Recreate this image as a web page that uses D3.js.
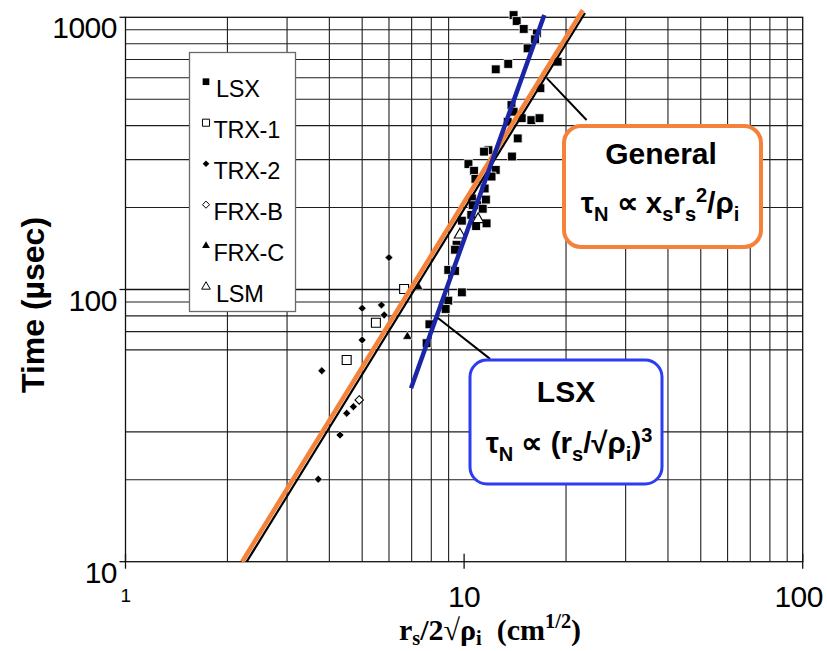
<!DOCTYPE html>
<html><head><meta charset="utf-8">
<script src="https://cdn.jsdelivr.net/npm/d3@7/dist/d3.min.js"></script>
<style>
html,body{margin:0;padding:0;background:#fff;}
svg{display:block;}
</style></head>
<body>
<svg id="chart" width="827" height="651"></svg>
<script>
// ---------- data ----------
const xTickValues = [1, 10, 100];
const xTickLabels = ["1", "10", "100"];
const yTickValues = [10, 100, 1000];
const yTickLabels = ["10", "100", "1000"];
const xGridValues = [2,3,4,5,6,7,8,9,20,30,40,50,60,70,80,90];
const yGridValues = [20,30,60,70,80,90,200,300,400,500,600,700,800,900];

const lsxPoints = [[14.0,1019],[14.3,969],[15.0,906],[16.4,873],[16.2,830],[15.4,769],[12.4,644],[13.5,674],[18.9,687],[16.8,549],[13.8,476],[14.0,450],[14.8,426],[15.8,419],[16.7,426],[13.45,413],[14.4,359],[11.8,325],[11.45,321],[13.85,308],[10.3,289],[10.7,273],[12.4,275],[12.05,260],[10.8,255],[11.5,235],[10.55,216],[10.6,204],[11.2,204],[11.6,214],[11.35,198],[10.5,188],[11.65,175],[10.85,171],[9.85,179],[9.5,146],[9.4,140],[8.98,118],[9.4,117],[9.85,97.6],[8.98,91.0],[8.82,84.8],[7.9,74.5],[7.75,63.5]];
const trx1Points = [[6.65,100.4],[5.49,75.5],[4.50,55.1]];
const trx2Points = [[5.0,85.3],[5.7,87.7],[5.81,80.6],[5.0,65.2],[3.8,50.3],[4.5,35.1],[4.71,37.1],[4.3,29.2],[3.71,20.1],[6.0,131]];
const frxBPoints = [[4.9,39.3]];
const frxCPoints = [[6.8,67.1],[7.32,102.4]];
const lsmPoints = [[11.0,181],[9.72,159]];

const generalFitOrange = [[2.21,10],[22.4,1063]];
const generalFitBlack = [[2.28,10],[22.75,1037]];
const lsxFit = [[6.97,43.4],[17.25,1020]];
const generalLeader = [[17.54,598],[23.0,419.5]];
const lsxLeader = [[8.37,78.6],[11.93,55.6]];

const legendNames = ["LSX","TRX-1","TRX-2","FRX-B","FRX-C","LSM"];

// ---------- setup ----------
const svg = d3.select("#chart");
const x = d3.scaleLog().domain([1,100]).range([125.5, 802.7]);
const y = d3.scaleLog().domain([10,1000]).range([561.7, 17.3]);
const sans = "'Liberation Sans', Arial, Helvetica, sans-serif";
const serif = "'Liberation Serif', 'Times New Roman', serif";
const gridColor = "#1e1e1e";

// grid
const g = svg.append("g");
g.selectAll("line.vg").data(xGridValues).join("line")
  .attr("x1", d=>x(d)).attr("x2", d=>x(d))
  .attr("y1", y(1000)).attr("y2", y(10))
  .attr("stroke", gridColor).attr("stroke-width", 1.1);
g.selectAll("line.hg").data(yGridValues).join("line")
  .attr("x1", x(1)).attr("x2", x(100))
  .attr("y1", d=>y(d)).attr("y2", d=>y(d))
  .attr("stroke", gridColor).attr("stroke-width", 1.1);
// frame
g.append("rect").attr("x", x(1)).attr("y", y(1000))
  .attr("width", x(100)-x(1)).attr("height", y(10)-y(1000))
  .attr("fill","none").attr("stroke","#111").attr("stroke-width",1.3);
g.append("line").attr("x1",x(1)).attr("x2",x(100)).attr("y1",y(100)).attr("y2",y(100))
  .attr("stroke","#111").attr("stroke-width",1.3);

// axes ticks
g.selectAll("line.yt").data(yTickValues).join("line")
  .attr("x1", x(1)-6).attr("x2", x(1)).attr("y1", d=>y(d)).attr("y2", d=>y(d))
  .attr("stroke","#111").attr("stroke-width",1.3);
g.selectAll("line.xt").data(xTickValues).join("line")
  .attr("x1", d=>x(d)).attr("x2", d=>x(d)).attr("y1", y(10)-8).attr("y2", y(10)+7)
  .attr("stroke","#111").attr("stroke-width",1.3);

// tick labels
svg.selectAll("text.yl").data(yTickValues).join("text")
  .attr("x", 117).attr("y", d=>y(d)+21)
  .attr("text-anchor","end").attr("font-family",sans).attr("font-size",30)
  .attr("letter-spacing",-0.5)
  .text((d,i)=>yTickLabels[i]);
svg.selectAll("text.xl").data(xTickValues).join("text")
  .attr("x", (d,i)=> x(d) + (i===2 ? -4 : 0))
  .attr("y", (d,i)=> i===0 ? 602 : 607)
  .attr("text-anchor","middle").attr("font-family",sans)
  .attr("font-size",(d,i)=> i===0 ? 19 : 30).attr("letter-spacing",-0.5)
  .text((d,i)=>xTickLabels[i]);

// axis titles
svg.append("text").attr("transform","translate(43.5,305) rotate(-90)")
  .attr("text-anchor","middle").attr("font-family",sans).attr("font-weight","bold")
  .attr("font-size",32).text("Time (µsec)");

function rich(textSel, parts, size, subK){
  let shift = 0;
  const sk = subK || 0.28;
  parts.forEach(p=>{
    const [t, kind] = p;
    let target = 0, fs = size;
    if (kind==="sub"){ target = size*sk; fs = size*0.68; }
    else if (kind==="sup"){ target = -size*0.38; fs = size*0.68; }
    textSel.append("tspan").attr("dy", target - shift).attr("font-size", fs).text(t);
    shift = target;
  });
}

const xt = svg.append("text").attr("x", 490).attr("y", 639.5)
  .attr("text-anchor","middle").attr("font-family",serif).attr("font-weight","bold")
  .attr("font-size",30);
rich(xt, [["r","n"],["s","sub"],["/2√ρ","n"],["i","sub"],["\u00a0\u00a0(cm","n"],["1/2","sup"],[")","n"]], 30, 0.18);

// ---------- points ----------
const pts = svg.append("g");
const sym = (type,size)=> d3.symbol().type(type).size(size)();
function drawPts(data, type, size, fill, stroke, sw){
  pts.selectAll(null).data(data).join("path")
    .attr("transform", d=>`translate(${x(d[0])},${y(d[1])})`)
    .attr("d", sym(type,size))
    .attr("fill", fill).attr("stroke", stroke).attr("stroke-width", sw);
}
drawPts(trx2Points, d3.symbolDiamond2, 40, "#000", "#fff", 0.6);
drawPts(trx1Points, d3.symbolSquare, 80, "#fff", "#000", 1.1);
drawPts(frxBPoints, d3.symbolDiamond2, 45, "#fff", "#000", 1.1);
drawPts(frxCPoints, d3.symbolTriangle, 38, "#000", "#fff", 0.5);
drawPts(lsxPoints, d3.symbolSquare, 78, "#000", "#fff", 0.8);
drawPts(lsmPoints, d3.symbolTriangle, 55, "#fff", "#000", 1.1);

// ---------- fit lines ----------
const line = d3.line().x(d=>x(d[0])).y(d=>y(d[1]));
svg.append("path").attr("d", line(generalFitBlack)).attr("stroke","#000").attr("stroke-width",2.2).attr("fill","none");
svg.append("path").attr("d", line(generalFitOrange)).attr("stroke","#f5823a").attr("stroke-width",4.5).attr("fill","none");
svg.append("path").attr("d", line(lsxFit)).attr("stroke","#1b26a6").attr("stroke-width",4.5).attr("fill","none");
svg.append("path").attr("d", line(generalLeader)).attr("stroke","#000").attr("stroke-width",2).attr("fill","none");
svg.append("path").attr("d", line(lsxLeader)).attr("stroke","#000").attr("stroke-width",2).attr("fill","none");

// ---------- legend ----------
const lg = svg.append("g");
lg.append("rect").attr("x",189.5).attr("y",52.5).attr("width",106).attr("height",259)
  .attr("fill","#fff").attr("stroke","#6a6a6a").attr("stroke-width",1.3);
const legendMarkers = [
  [d3.symbolSquare, 45, "#000", "none", 0],
  [d3.symbolSquare, 50, "#fff", "#000", 1],
  [d3.symbolDiamond2, 28, "#000", "none", 0],
  [d3.symbolDiamond2, 32, "#fff", "#000", 1],
  [d3.symbolTriangle, 26, "#000", "none", 0],
  [d3.symbolTriangle, 32, "#fff", "#000", 1]
];
legendNames.forEach((name,i)=>{
  const by = 96.7 + i*41;
  const m = legendMarkers[i];
  lg.append("path").attr("transform",`translate(206,${by-15})`)
    .attr("d", sym(m[0],m[1])).attr("fill",m[2]).attr("stroke",m[3]).attr("stroke-width",m[4]);
  lg.append("text").attr("x", (i===0||i===5)?216:213.5).attr("y", by)
    .attr("font-family",sans).attr("font-size",23.5).attr("letter-spacing",-0.3).text(name);
});

// ---------- annotation boxes ----------
svg.append("rect").attr("x",564).attr("y",126).attr("width",197).attr("height",121).attr("rx",17)
  .attr("fill","#fff").attr("stroke","#f5823a").attr("stroke-width",4);
svg.append("text").attr("x",661).attr("y",164).attr("text-anchor","middle")
  .attr("font-family",sans).attr("font-weight","bold").attr("font-size",30).text("General");
const t1 = svg.append("text").attr("x",660).attr("y",213).attr("text-anchor","middle")
  .attr("font-family",sans).attr("font-weight","bold").attr("font-size",29.5);
rich(t1, [["τ","n"],["N","sub"],[" ∝ x","n"],["s","sub"],["r","n"],["s","sub"],["2","sup"],["/ρ","n"],["i","sub"]], 29.5);

svg.append("rect").attr("x",470).attr("y",360).attr("width",192).attr("height",124).attr("rx",17)
  .attr("fill","#fff").attr("stroke","#2b3cf2").attr("stroke-width",3);
svg.append("text").attr("x",566).attr("y",401.5).attr("text-anchor","middle")
  .attr("font-family",sans).attr("font-weight","bold").attr("font-size",30).text("LSX");
const t2 = svg.append("text").attr("x",569).attr("y",453).attr("text-anchor","middle")
  .attr("font-family",sans).attr("font-weight","bold").attr("font-size",29.5);
rich(t2, [["τ","n"],["N","sub"],[" ∝ (r","n"],["s","sub"],["/√ρ","n"],["i","sub"],[")","n"],["3","sup"]], 29.5);
</script>
</body></html>
